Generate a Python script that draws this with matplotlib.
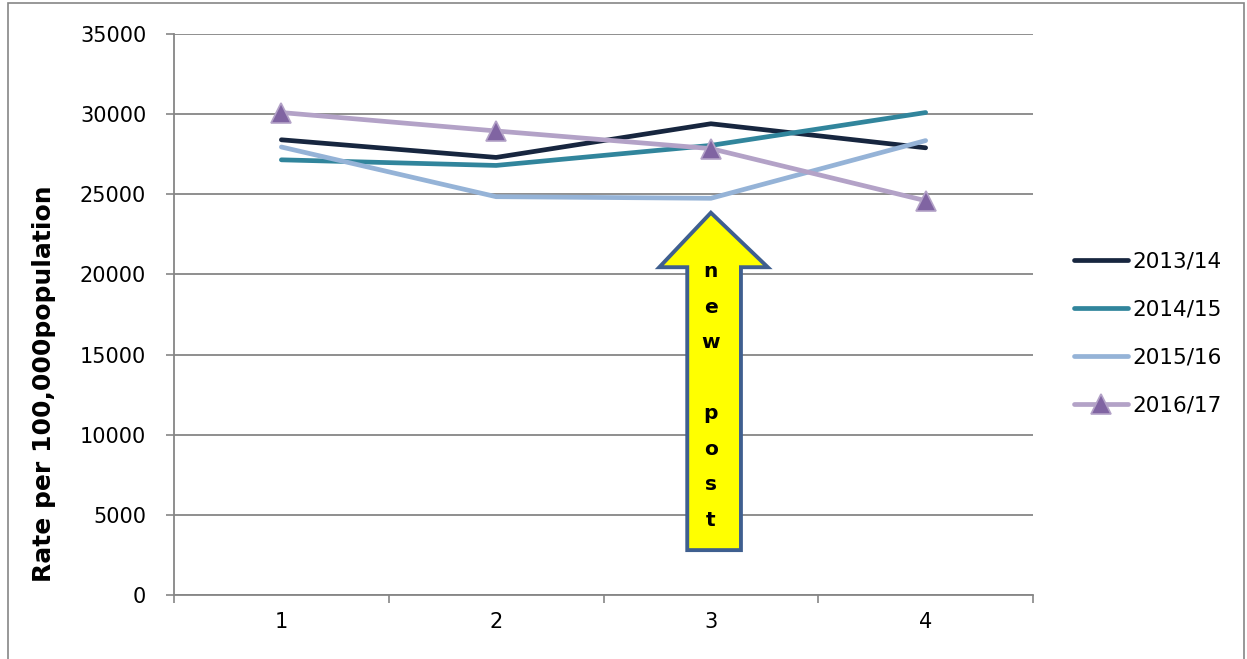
import matplotlib
matplotlib.use("Agg")
import matplotlib.pyplot as plt
from matplotlib.patches import Polygon, Rectangle

quarters = [1, 2, 3, 4]
series_names = ["2013/14", "2014/15", "2015/16", "2016/17"]
v_2013 = [28400, 27300, 29400, 27900]
v_2014 = [27150, 26800, 28050, 30100]
v_2015 = [27950, 24850, 24750, 28350]
v_2016 = [30100, 28950, 27850, 24600]
yticks = [0, 5000, 10000, 15000, 20000, 25000, 30000, 35000]

plt.rcParams['font.family'] = ['DejaVu Sans']

fig = plt.figure(figsize=(12.47, 6.59), dpi=100)
ax = fig.add_axes([174/1247, 1-595/659, (1033-174)/1247, (595-34)/659])

colors = ["#17263f", "#31859c", "#95b3d7", "#b3a2c7"]
data = [v_2013, v_2014, v_2015, v_2016]
for name, vals, c in zip(series_names, data, colors):
    if name == "2016/17":
        ax.plot(quarters, vals, color=c, lw=3.4, marker="^", markersize=14,
                markerfacecolor="#8064a2", markeredgecolor="#b3a2c7",
                markeredgewidth=1.2, label=name, zorder=3, solid_capstyle="round")
    else:
        ax.plot(quarters, vals, color=c, lw=3.4, label=name, zorder=3,
                solid_capstyle="round")

ax.set_xlim(0.5, 4.5)
ax.set_ylim(0, 35000)
ax.set_yticks(yticks)
ax.set_yticklabels([str(t) for t in yticks], fontsize=15)
ax.yaxis.grid(True, color="#868686", lw=1.3)
ax.set_axisbelow(True)

ax.set_xticks([0.5, 1.5, 2.5, 3.5, 4.5])
ax.set_xticklabels([])
ax.set_xticks(quarters, minor=True)
ax.set_xticklabels([str(q) for q in quarters], minor=True, fontsize=15)
ax.tick_params(axis="x", which="major", length=6, width=1.2, color="#868686", direction="out")
ax.tick_params(axis="x", which="minor", length=0, pad=12)
ax.tick_params(axis="y", length=6, width=1.2, color="#868686", direction="out", pad=14)

for s in ["top", "right"]:
    ax.spines[s].set_visible(False)
for s in ["left", "bottom"]:
    ax.spines[s].set_color("#868686")
    ax.spines[s].set_linewidth(1.3)

ax.set_ylabel("Rate per 100,000population", fontsize=18, fontweight="bold")
ax.yaxis.set_label_coords((56 - 174) / 859, (595 - 384) / 561)

# arrow annotation "new post"
arrow = Polygon([(2.89, 2800), (3.14, 2800), (3.14, 20450), (3.265, 20450),
                 (3.0, 23850), (2.76, 20450), (2.89, 20450)], closed=True,
                facecolor="#ffff00", edgecolor="#3f5f8f", lw=2.8, zorder=5)
ax.add_patch(arrow)
ax.text(3.0, 20750, "n\ne\nw\n\np\no\ns\nt", ha="center", va="top", fontsize=14.5,
        fontweight="bold", linespacing=2.1, zorder=6)

leg = fig.legend(loc="upper left", bbox_to_anchor=(1063/1247, 1-241/659), frameon=False,
                 fontsize=15.5, handlelength=2.5, handletextpad=0.2, labelspacing=1.29,
                 borderpad=0)

fig.add_artist(Rectangle((8/1247, -0.05), (1244-8)/1247, 1.05-3/659, transform=fig.transFigure,
                         fill=False, edgecolor="#868686", lw=1.2))

fig.savefig("out.png", dpi=100)
